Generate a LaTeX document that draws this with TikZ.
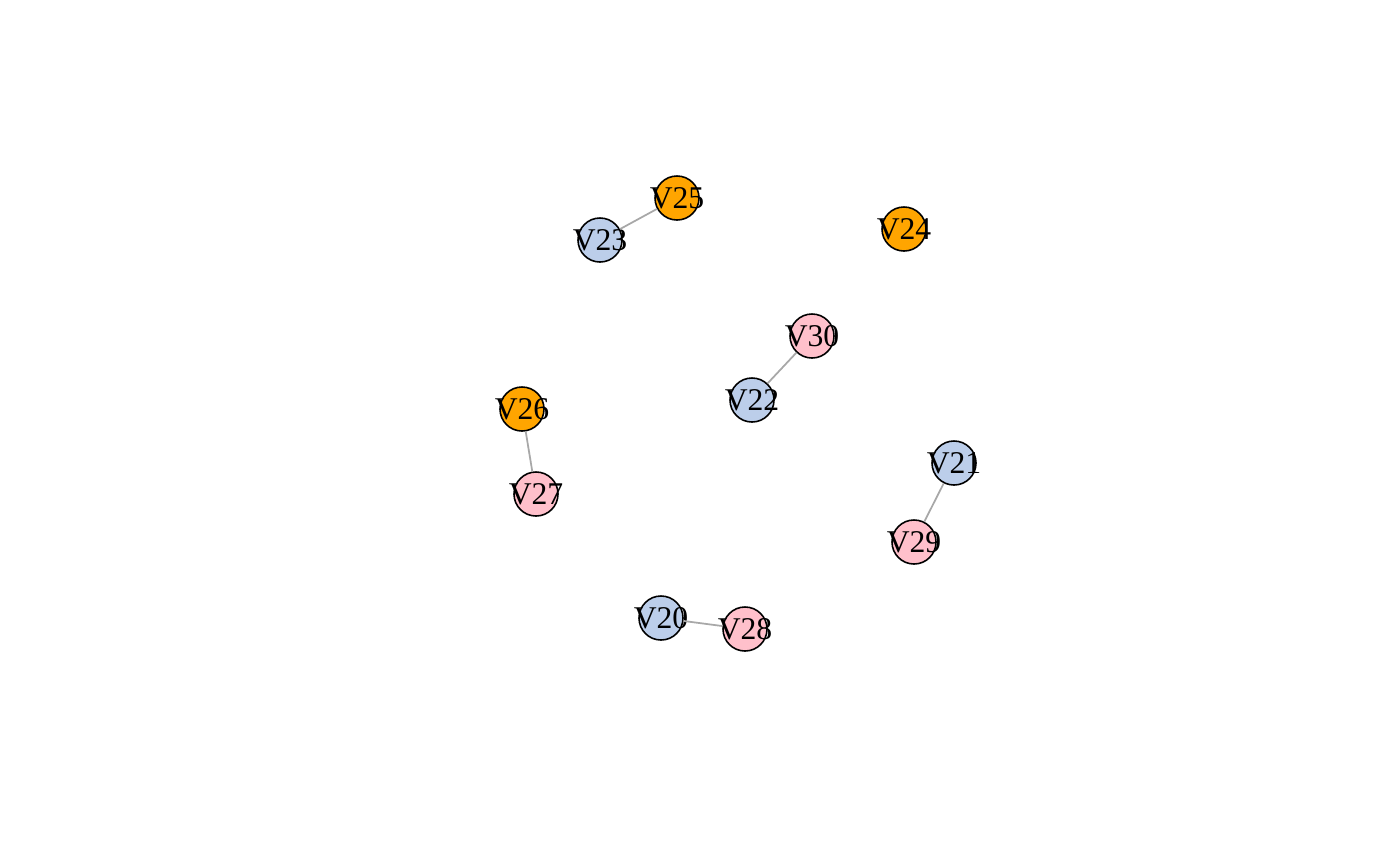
\documentclass[tikz,border=0pt]{standalone}
\usepackage{fontspec}
\setmainfont{Liberation Serif}
\definecolor{vblue}{HTML}{BCCEEA}
\definecolor{vpink}{HTML}{FFC0CB}
\definecolor{vorange}{HTML}{FFA500}
\definecolor{edgegray}{HTML}{A8A8A8}
\tikzset{
  vert/.style={circle, draw=black, line width=0.45pt, minimum size=0.44cm, inner sep=0pt,
    label={[font=\fontsize{9pt}{9pt}\selectfont, inner sep=0pt]center:#1}},
  vb/.style={vert=#1, fill=vblue},
  vp/.style={vert=#1, fill=vpink},
  vo/.style={vert=#1, fill=vorange},
  link/.style={draw=edgegray, line width=0.5pt}
}
\begin{document}
\begin{tikzpicture}[x=0.01cm,y=-0.01cm]
      \useasboundingbox (0,0) rectangle (1400,866);

      % VERTICES
      \node[vo=V25] (V25) at (677,198) {};
      \node[vb=V23] (V23) at (600,240) {};
      \node[vo=V24] (V24) at (904,229) {};
      \node[vp=V30] (V30) at (812,336) {};
      \node[vb=V22] (V22) at (752,400) {};
      \node[vo=V26] (V26) at (522,409) {};
      \node[vp=V27] (V27) at (536,494) {};
      \node[vb=V21] (V21) at (954,463) {};
      \node[vp=V29] (V29) at (914,542) {};
      \node[vb=V20] (V20) at (661,618) {};
      \node[vp=V28] (V28) at (745,629) {};

      % EDGES
      \draw[link] (V23) -- (V25);
      \draw[link] (V22) -- (V30);
      \draw[link] (V26) -- (V27);
      \draw[link] (V21) -- (V29);
      \draw[link] (V20) -- (V28);
    \end{tikzpicture}
\end{document}
